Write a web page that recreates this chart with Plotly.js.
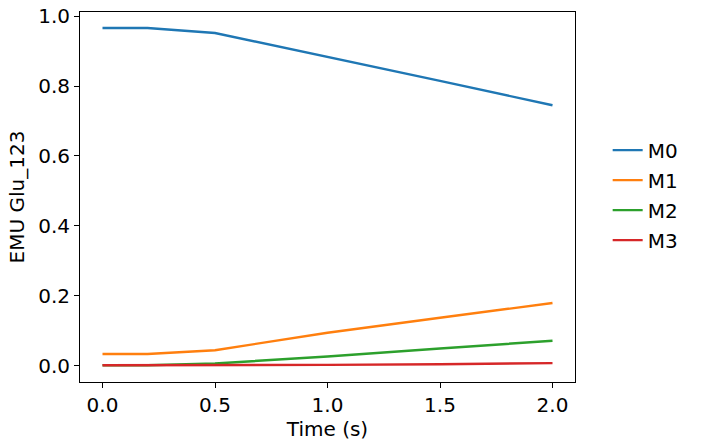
<!DOCTYPE html>
<html>
<head>
<meta charset="utf-8">
<script src="https://cdn.plot.ly/plotly-3.0.1.min.js"></script>
<style>html,body{margin:0;padding:0;background:#fff;}#chart{width:712px;height:447px;}</style>
</head>
<body>
<div id="chart"></div>
<script>
const time = [0.0, 0.2, 0.5, 1.0, 1.5, 2.0];
const seriesNames = ["M0", "M1", "M2", "M3"];
const m0 = [0.966, 0.966, 0.952, 0.884, 0.815, 0.745];
const m1 = [0.033, 0.033, 0.044, 0.094, 0.137, 0.179];
const m2 = [0.001, 0.001, 0.006, 0.026, 0.049, 0.071];
const m3 = [0.001, 0.001, 0.001, 0.002, 0.004, 0.007];
const colors = ["#1f77b4", "#ff7f0e", "#2ca02c", "#d62728"];
const values = [m0, m1, m2, m3];

const traces = values.map((v, i) => ({
  x: time, y: v, type: "scatter", mode: "lines", name: seriesNames[i],
  legendgroup: seriesNames[i],
  line: {color: colors[i], width: 2.4}
}));

const font = {family: "DejaVu Sans, sans-serif", size: 20, color: "#000"};
const axisCommon = {
  showline: true, mirror: true, linecolor: "#000", linewidth: 1,
  ticks: "outside", ticklen: 5, tickcolor: "#000", tickwidth: 1,
  showgrid: false, zeroline: false, tickfont: font
};
const layout = {
  width: 712, height: 447,
  margin: {l: 80, r: 137, t: 12, b: 65},
  paper_bgcolor: "#fff", plot_bgcolor: "#fff",
  font: font,
  xaxis: Object.assign({}, axisCommon, {
    range: [-0.1, 2.1], tickvals: [0, 0.5, 1.0, 1.5, 2.0], tickformat: ".1f",
    title: {text: "Time (s)", font: font, standoff: 3}
  }),
  yaxis: Object.assign({}, axisCommon, {
    range: [-0.047, 1.012], tickvals: [0, 0.2, 0.4, 0.6, 0.8, 1.0], tickformat: ".1f",
    title: {text: "EMU Glu_123", font: font, standoff: 8}
  }),
  legend: {
    x: 1.066, y: 0.505, xanchor: "left", yanchor: "middle",
    font: font,
    tracegroupgap: 1, bgcolor: "rgba(0,0,0,0)"
  },
  showlegend: true
};
Plotly.newPlot("chart", traces, layout, {displayModeBar: false, staticPlot: true});
</script>
</body>
</html>
